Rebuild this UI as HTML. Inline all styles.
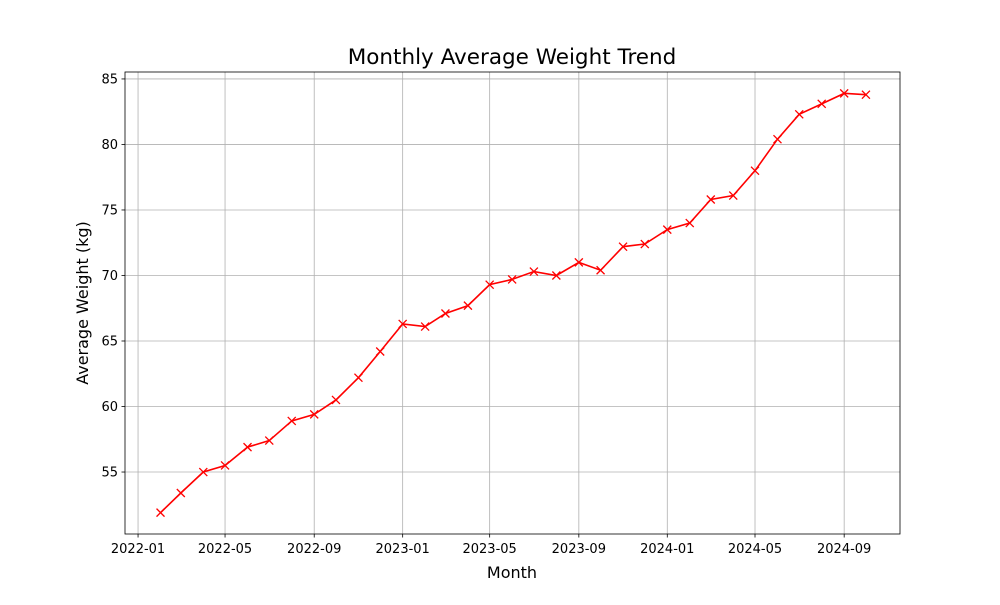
<!DOCTYPE html>
<html><head><meta charset="utf-8"><style>
body{margin:0;background:#fff}
svg text{font-family:"DejaVu Sans","Liberation Sans",sans-serif;fill:#000}
</style></head><body>
<svg id="c" width="1000" height="600" viewBox="0 0 1000 600" xmlns="http://www.w3.org/2000/svg">
<rect width="1000" height="600" fill="#fff"/>
<text x="512" y="64" font-size="21.5" text-anchor="middle">Monthly Average Weight Trend</text>
<text x="512" y="578" font-size="16" text-anchor="middle">Month</text>
<text transform="translate(88,303) rotate(-90)" font-size="16" text-anchor="middle">Average Weight (kg)</text>
<g id="grid"></g><g id="axes"></g><g id="series"></g>
</svg>
<script>
const months = ["2022-02","2022-03","2022-04","2022-05","2022-06","2022-07","2022-08","2022-09","2022-10","2022-11","2022-12","2023-01","2023-02","2023-03","2023-04","2023-05","2023-06","2023-07","2023-08","2023-09","2023-10","2023-11","2023-12","2024-01","2024-02","2024-03","2024-04","2024-05","2024-06","2024-07","2024-08","2024-09","2024-10"];
const weights = [51.9,53.4,55.0,55.5,56.9,57.4,58.9,59.4,60.5,62.2,64.2,66.3,66.1,67.1,67.7,69.3,69.7,70.3,70.0,71.0,70.4,72.2,72.4,73.5,74.0,75.8,76.1,78.0,80.4,82.3,83.1,83.9,83.8];
const xTicks = ["2022-01","2022-05","2022-09","2023-01","2023-05","2023-09","2024-01","2024-05","2024-09"];
const yTicks = [55,60,65,70,75,80,85];
const L=125,R=900,T=72,B=534;
const d0=Date.UTC(2022,0,1), DAY=86400000;
const xMin=-18, xMax=1051, yMin=50.27, yMax=85.53;
function days(s){const [y,m]=s.split("-").map(Number);return (Date.UTC(y,m-1,1)-d0)/DAY;}
function xs(s){return L+(days(s)-xMin)/(xMax-xMin)*(R-L);}
function ys(v){return B-(v-yMin)/(yMax-yMin)*(B-T);}
const NS="http://www.w3.org/2000/svg";
function mk(tag,attrs,parent){const e=document.createElementNS(NS,tag);for(const k in attrs)e.setAttribute(k,attrs[k]);parent.appendChild(e);return e;}
const grid=document.getElementById("grid"),axes=document.getElementById("axes"),ser=document.getElementById("series");
xTicks.forEach(t=>{const x=xs(t);
 const g=mk("line",{x1:x,x2:x,y1:T,y2:B,stroke:"#b0b0b0","stroke-width":0.8},grid);
 
 
 mk("line",{x1:x,x2:x,y1:B,y2:B+3.5,stroke:"#000","stroke-width":0.8},axes);
 const tx=mk("text",{x:x,y:B+19,"font-size":"13","text-anchor":"middle"},axes);tx.textContent=t;
 
 
});
yTicks.forEach(t=>{const y=ys(t);
 const g=mk("line",{x1:L,x2:R,y1:y,y2:y,stroke:"#b0b0b0","stroke-width":0.8},grid);
 
 
 mk("line",{x1:L-3.5,x2:L,y1:y,y2:y,stroke:"#000","stroke-width":0.8},axes);
 const tx=mk("text",{x:L-7,y:y+4.5,"font-size":"13","text-anchor":"end"},axes);tx.textContent=t;
 
 
});
const frame=mk("rect",{x:L,y:T,width:R-L,height:B-T,fill:"none",stroke:"#000","stroke-width":0.8},axes);


const pts=months.map((m,i)=>[xs(m),ys(weights[i])]);
const line=mk("polyline",{points:pts.map(p=>p.join(",")).join(" "),fill:"none",stroke:"#ff0000","stroke-width":1.6},ser);


pts.forEach(([x,y])=>{
 const p=mk("path",{d:`M${x-4},${y-4}L${x+4},${y+4}M${x-4},${y+4}L${x+4},${y-4}`,stroke:"#ff0000","stroke-width":1.3},ser);
 
 
});
</script>
</body></html>
